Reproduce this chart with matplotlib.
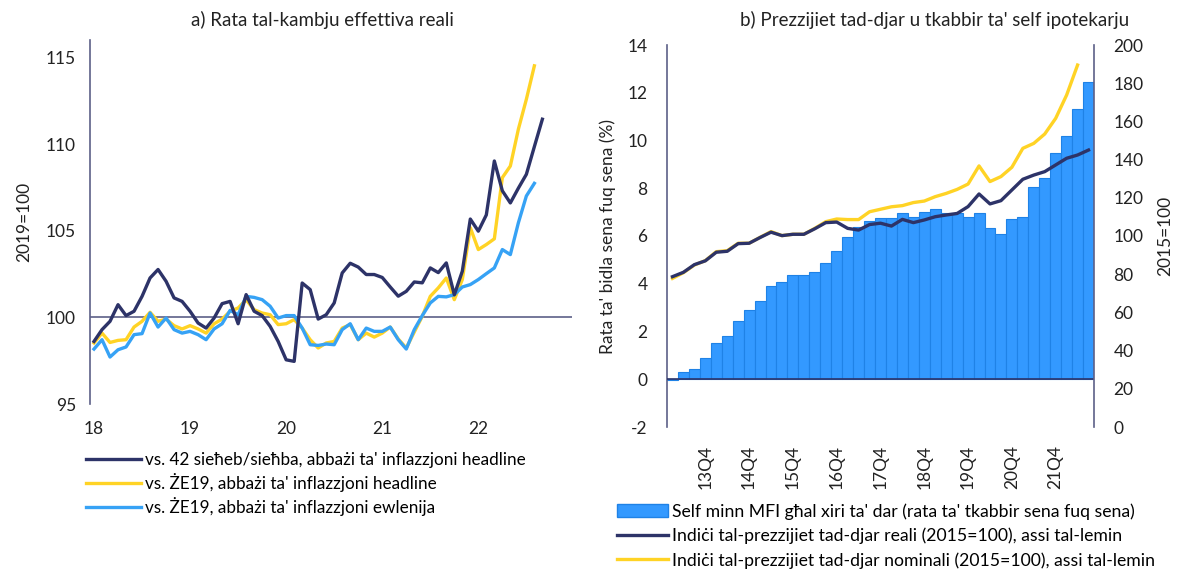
import matplotlib
matplotlib.use("Agg")
import matplotlib.pyplot as plt
from matplotlib.patches import Patch
import numpy as np

plt.rcParams['font.family'] = ['Lato', 'DejaVu Sans']
plt.rcParams['axes.unicode_minus'] = False

# ---------------- Panel a data (monthly, Jan 2018 onwards) ----------------
year_labels = ["18", "19", "20", "21", "22"]
neer_42_headline = [98.61, 99.29, 99.77, 100.73, 100.10, 100.35, 101.21, 102.27, 102.76, 102.08,
                    101.12, 100.92, 100.35, 99.67, 99.38, 99.96, 100.79, 100.92, 99.63, 101.31,
                    100.35, 100.10, 99.48, 98.61, 97.55, 97.46, 101.98, 101.60, 99.90, 100.15,
                    100.83, 102.56, 103.12, 102.90, 102.47, 102.47, 102.30, 101.75, 101.22, 101.50,
                    102.04, 101.99, 102.85, 102.58, 103.14, 101.30, 102.66, 105.67, 104.97, 105.91,
                    109.02, 107.30, 106.60, 107.45, 108.25, 109.85, 111.43]
ez19_headline = [98.52, 99.09, 98.55, 98.67, 98.71, 99.44, 99.77, 100.29, 99.77, 99.90,
                 99.52, 99.33, 99.52, 99.33, 99.09, 99.63, 99.90, 100.35, 100.54, 101.02,
                 100.44, 100.25, 100.15, 99.58, 99.63, 99.87, 99.38, 98.71, 98.23, 98.52,
                 98.61, 99.38, 99.58, 98.71, 99.09, 98.86, 99.09, 99.44, 98.75, 98.23,
                 99.15, 100.06, 101.21, 101.70, 102.27, 101.02, 102.18, 105.17, 103.91, 104.20,
                 104.53, 108.06, 108.73, 110.85, 112.58, 114.51]
ez19_core = [98.17, 98.71, 97.71, 98.13, 98.29, 99.00, 99.06, 100.25, 99.44, 99.96,
             99.29, 99.09, 99.19, 99.00, 98.71, 99.33, 99.63, 100.40, 100.15, 101.21,
             101.15, 101.02, 100.64, 99.96, 100.10, 100.10, 99.38, 98.42, 98.38, 98.46,
             98.42, 99.29, 99.63, 98.71, 99.38, 99.19, 99.19, 99.44, 98.71, 98.17,
             99.29, 100.10, 100.83, 101.21, 101.18, 101.31, 101.75, 101.89, 102.18, 102.52,
             102.85, 103.91, 103.62, 105.45, 107.00, 107.73]

# ---------------- Panel b data (quarterly, 13Q1 - 22Q3) ----------------
quarter_labels = ["13Q4", "14Q4", "15Q4", "16Q4", "17Q4", "18Q4", "19Q4", "20Q4", "21Q4"]
mortgage_growth = [-0.05, 0.32, 0.42, 0.89, 1.53, 1.80, 2.43, 2.90, 3.28, 3.91,
                   4.06, 4.37, 4.37, 4.49, 4.86, 5.39, 5.96, 6.36, 6.64, 6.74,
                   6.74, 6.95, 6.78, 7.02, 7.12, 6.98, 6.98, 6.81, 6.95, 6.32,
                   6.07, 6.70, 6.78, 8.07, 8.44, 9.49, 10.19, 11.33, 12.45]
real_hpi = [78.7, 81.0, 85.0, 87.0, 91.5, 92.0, 96.0, 96.2, 99.2, 102.0,
            100.2, 100.9, 100.9, 103.8, 107.0, 107.3, 104.0, 103.1, 106.0, 106.7,
            105.2, 108.7, 107.0, 108.4, 110.1, 111.0, 111.8, 115.4, 122.0, 116.8,
            118.5, 124.1, 129.7, 131.9, 133.7, 137.2, 140.7, 142.4, 145.0]
nominal_hpi = [77.8, 80.8, 84.8, 87.1, 91.8, 92.3, 96.2, 96.2, 99.3, 102.3,
               100.2, 100.9, 100.9, 104.0, 107.5, 108.9, 108.6, 108.6, 112.7, 114.0,
               115.3, 115.9, 117.5, 118.3, 120.6, 122.3, 124.4, 127.2, 136.7, 128.5,
               131.1, 136.0, 145.9, 148.5, 153.4, 161.6, 173.8, 189.5]

NAVY = "#2d3368"
YELLOW = "#ffd325"
LBLUE = "#36a2f5"
BAR = "#3399ff"
BAREDGE = "#1f82e6"
AXC = "#5c6088"
TXT = "#222222"

fig = plt.figure(figsize=(11.79, 5.72), dpi=100)

# ================= Panel a =================
axa = fig.add_axes([90/1179, 1 - 404/572, (572-90)/1179, (404-40)/572])
m1 = np.arange(len(neer_42_headline))
m2 = np.arange(len(ez19_headline))
m3 = np.arange(len(ez19_core))
axa.axhline(100, color=AXC, lw=1.2, zorder=1)
la1, = axa.plot(m1, neer_42_headline, color=NAVY, lw=2.4, zorder=4)
la2, = axa.plot(m2, ez19_headline, color=YELLOW, lw=2.4, zorder=2)
la3, = axa.plot(m3, ez19_core, color=LBLUE, lw=2.4, zorder=3)
axa.set_xlim(-0.5, 59.7)
axa.set_ylim(95, 116)
axa.set_yticks([95, 100, 105, 110, 115])
axa.set_xticks([0, 12, 24, 36, 48])
axa.set_xticklabels(year_labels)
for s in ["top", "right", "bottom"]:
    axa.spines[s].set_visible(False)
axa.spines["left"].set_color(AXC)
axa.spines["left"].set_linewidth(1.2)
axa.tick_params(axis="both", length=0, labelsize=12.5, colors=TXT)
axa.tick_params(axis="x", pad=12)
axa.tick_params(axis="y", pad=10)
axa.set_ylabel("2019=100", fontsize=12.5, color=TXT, labelpad=10)
fig.text(322/1179, 1 - 20/572, "a) Rata tal-kambju effettiva reali", ha="center", va="center",
         fontsize=13.5, color=TXT)
fig.legend([la1, la2, la3],
           ["vs. 42 sieħeb/sieħba, abbażi ta' inflazzjoni headline",
            "vs. ŻE19, abbażi ta' inflazzjoni headline",
            "vs. ŻE19, abbażi ta' inflazzjoni ewlenija"],
           loc="upper left", bbox_to_anchor=(86/1179, 1 - 452/572), frameon=False,
           fontsize=12.3, handlelength=3.2, handletextpad=0.25, labelspacing=0.3,
           borderaxespad=0, borderpad=0)

# ================= Panel b =================
axb = fig.add_axes([667/1179, 1 - 427/572, (1094-667)/1179, (427-45)/572])
q = np.arange(len(mortgage_growth))
axb.bar(q, mortgage_growth, width=1.0, color=BAR, edgecolor=BAREDGE, linewidth=0.8, zorder=2)
axb.axhline(0, color=NAVY, lw=1.2, zorder=3)
axb.set_xlim(-0.5, len(mortgage_growth) - 0.5)
axb.set_ylim(-2, 14)
axb.set_yticks(np.arange(-2, 15, 2))
axb.set_xticks(q[3::4])
axb.set_xticklabels(quarter_labels, rotation=90)
for s in ["top", "bottom"]:
    axb.spines[s].set_visible(False)
axb.spines["left"].set_color(AXC)
axb.spines["right"].set_visible(False)
axb.spines["left"].set_linewidth(1.2)
axb.tick_params(axis="both", length=0, labelsize=12.5, colors=TXT)
axb.tick_params(axis="x", pad=13)
axb.tick_params(axis="y", pad=14)
axb.set_ylabel("Rata ta' bidla sena fuq sena (%)", fontsize=12.5, color=TXT, labelpad=8)

axr = axb.twinx()
lr1, = axr.plot(np.arange(len(real_hpi)), real_hpi, color=NAVY, lw=2.4, zorder=4)
lr2, = axr.plot(np.arange(len(nominal_hpi)), nominal_hpi, color=YELLOW, lw=2.4, zorder=3)
axr.set_ylim(0, 200)
axr.set_yticks(np.arange(0, 201, 20))
for s in ["top", "bottom", "left"]:
    axr.spines[s].set_visible(False)
axr.spines["right"].set_color(AXC)
axr.spines["right"].set_linewidth(1.2)
axr.tick_params(axis="y", length=0, labelsize=12.5, colors=TXT, pad=14)
axr.set_ylabel("2015=100", fontsize=12.5, color=TXT, labelpad=10)
fig.text(935/1179, 1 - 20/572, "b) Prezzijiet tad-djar u tkabbir ta' self ipotekarju",
         ha="center", va="center", fontsize=13.5, color=TXT)

bar_handle = Patch(facecolor=BAR, edgecolor=BAREDGE)
fig.legend([bar_handle, lr1, lr2],
           ["Self minn MFI għal xiri ta' dar (rata ta' tkabbir sena fuq sena)",
            "Indiċi tal-prezzijiet tad-djar reali (2015=100), assi tal-lemin",
            "Indiċi tal-prezzijiet tad-djar nominali (2015=100), assi tal-lemin"],
           loc="upper left", bbox_to_anchor=(617/1179, 1 - 503/572), frameon=False,
           fontsize=12.7, handlelength=2.9, handletextpad=0.2, labelspacing=0.45,
           borderaxespad=0, borderpad=0)

fig.savefig("out.png", dpi=100)
